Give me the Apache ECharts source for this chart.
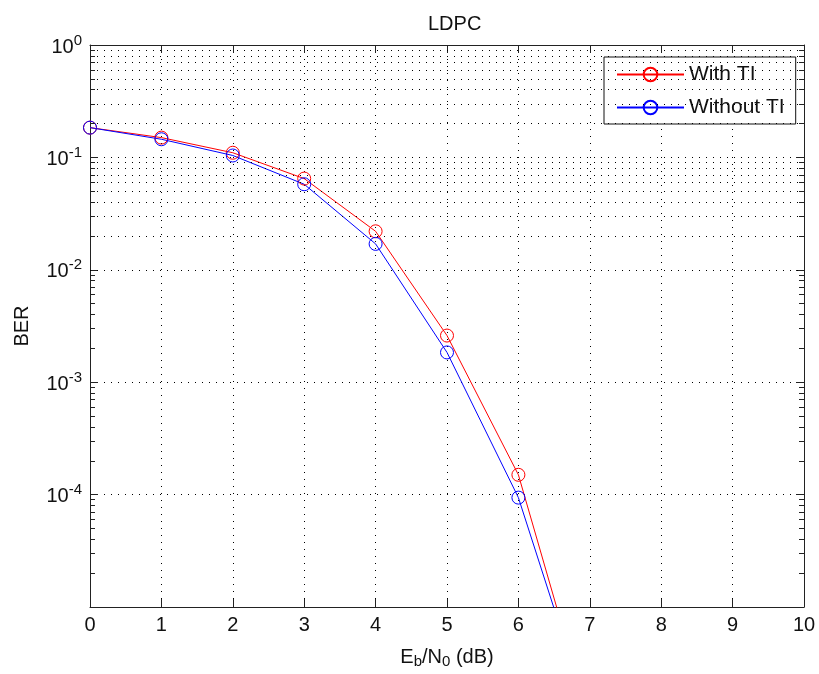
<!DOCTYPE html>
<html>
<head>
<meta charset="utf-8">
<script src="https://cdn.jsdelivr.net/npm/echarts@6/dist/echarts.min.js"></script>
<style>html,body{margin:0;padding:0;background:#fff;}#c{width:819px;height:674px;}</style>
</head>
<body>
<div id="c"></div>
<script>
// Data
const ebn0 = [0, 1, 2, 3, 4, 5, 6, 7];
const withTI = [0.184, 0.150, 0.110, 0.0648, 0.0220, 0.0026, 1.5e-4, 9.5e-7];
const withoutTI = [0.184, 0.145, 0.104, 0.0577, 0.0170, 0.00184, 9.4e-5, 1.0e-6];
const seriesNames = ['With TI', 'Without TI'];
const decades = [-5, -4, -3, -2, -1];
const minorMult = [2, 3, 4, 5, 6, 7, 8, 9];

const FONT = 'Arial, "Liberation Sans", sans-serif';
const dotted = [1, 6];

const minorVals = [];
decades.forEach(d => minorMult.forEach(k => minorVals.push(k * Math.pow(10, d))));

const minorGrid = minorVals.map(v => ({ yAxis: v }));
const minorTicks = [];
minorVals.forEach(v => {
  minorTicks.push([{ coord: [0, v] }, { coord: [0.07, v] }]);
  minorTicks.push([{ coord: [9.93, v] }, { coord: [10, v] }]);
});

const chart = echarts.init(document.getElementById('c'), null, { renderer: 'canvas' });

const supRich = {
  b: { fontSize: 20, fontFamily: FONT, color: '#111', verticalAlign: 'bottom' },
  s: { fontSize: 15, fontFamily: FONT, color: '#111', verticalAlign: 'top', padding: [0, 0, 9, 0] }
};

chart.setOption({
  animation: false,
  backgroundColor: '#fff',
  title: {
    text: 'LDPC',
    left: 423, top: 9,
    textStyle: { fontSize: 20, fontWeight: 'normal', fontFamily: FONT, color: '#111' }
  },
  legend: {
    data: seriesNames,
    orient: 'vertical',
    left: 604, top: 57,
    padding: [7, 11, 6, 12],
    itemGap: 12,
    itemWidth: 67, itemHeight: 17,
    itemTextGap: 5,
    borderColor: '#111', borderWidth: 1,
    backgroundColor: '#fff',
    textStyle: { fontSize: 21, fontFamily: FONT, color: '#111' }
  },
  grid: { left: 90, right: 15, top: 45, bottom: 66, containLabel: false },
  xAxis: [{
    type: 'value', min: 0, max: 10, interval: 1,
    name: '{n|E}{sub|b}{n|/N}{sub|0}{n| (dB)}',
    nameLocation: 'middle', nameGap: 40,
    nameTextStyle: {
      rich: {
        n: { fontSize: 20, fontFamily: FONT, color: '#111', verticalAlign: 'top' },
        sub: { fontSize: 15, fontFamily: FONT, color: '#111', verticalAlign: 'bottom', padding: [7, 0, 0, 0] }
      }
    },
    axisLine: { show: true, onZero: false, lineStyle: { color: '#222', width: 1 } },
    axisTick: { show: true, inside: true, length: 8, lineStyle: { color: '#222' } },
    axisLabel: { fontSize: 20, fontFamily: FONT, color: '#111', margin: 8 },
    splitLine: { show: true, lineStyle: { color: '#000', type: dotted, width: 1 } }
  }, {
    type: 'value', min: 0, max: 10, interval: 1, position: 'top',
    axisLine: { show: true, onZero: false, lineStyle: { color: '#222', width: 1 } },
    axisTick: { show: true, inside: true, length: 8, lineStyle: { color: '#222' } },
    axisLabel: { show: false },
    splitLine: { show: false }
  }],
  yAxis: [{
    type: 'log', logBase: 10, min: 1e-5, max: 1,
    name: 'BER', nameLocation: 'middle', nameGap: 58, nameRotate: 90,
    nameTextStyle: { fontSize: 20, fontFamily: FONT, color: '#111' },
    axisLine: { show: true, onZero: false, lineStyle: { color: '#222', width: 1 } },
    axisTick: { show: true, inside: true, length: 8, lineStyle: { color: '#222' } },
    axisLabel: {
      margin: 8,
      formatter: function (v) {
        const e = Math.round(Math.log10(v));
        if (e === -5) return '';
        return '{b|10}{s|' + e + '}';
      },
      rich: supRich
    },
    splitLine: { show: true, lineStyle: { color: '#000', type: dotted, width: 1 } }
  }, {
    type: 'log', logBase: 10, min: 1e-5, max: 1, position: 'right',
    axisLine: { show: true, onZero: false, lineStyle: { color: '#222', width: 1 } },
    axisTick: { show: true, inside: true, length: 8, lineStyle: { color: '#222' } },
    axisLabel: { show: false },
    splitLine: { show: false }
  }],
  series: [{
    type: 'line', name: 'grid-minor', silent: true,
    data: [],
    markLine: {
      silent: true, symbol: 'none', animation: false,
      label: { show: false },
      lineStyle: { color: '#000', type: dotted, width: 1 },
      data: minorGrid
    }
  }, {
    type: 'line', name: 'tick-minor', silent: true,
    data: [],
    markLine: {
      silent: true, symbol: 'none', animation: false,
      label: { show: false },
      lineStyle: { color: '#222', type: 'solid', width: 1 },
      data: minorTicks
    }
  }, {
    type: 'line', name: seriesNames[0],
    data: ebn0.map((x, i) => [x, withTI[i]]),
    symbol: 'circle', symbolSize: 13,
    lineStyle: { color: '#ff0000', width: 1 },
    itemStyle: { color: 'rgba(0,0,0,0)', borderColor: '#ff0000', borderWidth: 1 },
    clip: true
  }, {
    type: 'line', name: seriesNames[1],
    data: ebn0.map((x, i) => [x, withoutTI[i]]),
    symbol: 'circle', symbolSize: 13,
    lineStyle: { color: '#0000ff', width: 1 },
    itemStyle: { color: 'rgba(0,0,0,0)', borderColor: '#0000ff', borderWidth: 1 },
    clip: true
  }]
});
</script>
</body>
</html>
